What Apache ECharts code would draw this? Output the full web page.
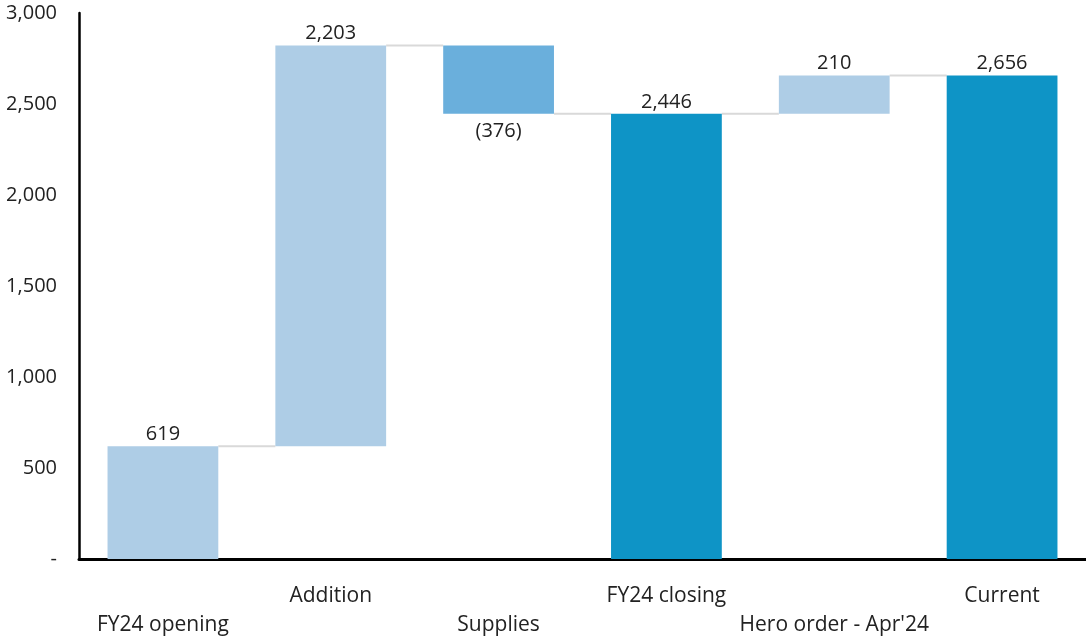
<!DOCTYPE html>
<html>
<head>
<meta charset="utf-8">
<script src="https://cdn.jsdelivr.net/npm/echarts@6/dist/echarts.min.js"></script>
<style>html,body{margin:0;padding:0;background:#fff;}#c{width:1086px;height:641px;}</style>
</head>
<body>
<div id="c"></div>
<script>
const categories = ['FY24 opening', 'Addition', 'Supplies', 'FY24 closing', "Hero order - Apr'24", 'Current'];
const values = [619, 2203, -376, 2446, 210, 2656];
const kinds = ['light', 'light', 'neg', 'total', 'light', 'total'];
const yTicks = [0, 500, 1000, 1500, 2000, 2500, 3000];

const colors = { light: '#AECDE6', neg: '#6AAFDC', total: '#0E94C6' };
const FONT = '"Open Sans", "Noto Sans", sans-serif';

// compute waterfall bases
const bases = [], heights = [], ends = [];
let run = 0;
values.forEach((v, i) => {
  if (kinds[i] === 'total') {
    bases.push(0); heights.push(v); run = v;
  } else if (v >= 0) {
    bases.push(run); heights.push(v); run += v;
  } else {
    bases.push(run + v); heights.push(-v); run += v;
  }
  ends.push(run);
});
const fmt = n => n.toLocaleString('en-US');
const connectors = ends.slice(0, -1).map((lvl, i) => [i, lvl]);

const chart = echarts.init(document.getElementById('c'));
chart.setOption({
  animation: false,
  grid: { left: 79, right: 0, top: 13, bottom: 82, containLabel: false },
  xAxis: {
    type: 'category',
    data: categories,
    axisLine: { lineStyle: { color: '#000', width: 3 } },
    axisTick: { show: false },
    axisLabel: {
      interval: 0, margin: 23, color: '#222', fontSize: 21, fontFamily: FONT, lineHeight: 29,
      formatter: (v, i) => i % 2 === 0 ? '\n' + v : v + '\n'
    }
  },
  yAxis: {
    type: 'value', min: 0, max: 3000, interval: 500,
    axisLine: { show: true, lineStyle: { color: '#000', width: 2.5 } },
    axisTick: { show: false },
    splitLine: { show: false },
    axisLabel: {
      margin: 22, color: '#222', fontSize: 20, fontFamily: FONT,
      formatter: v => yTicks.includes(v) ? (v === 0 ? '-' : fmt(v)) : ''
    }
  },
  series: [
    {
      type: 'bar', stack: 'w', barWidth: '66%', silent: true,
      itemStyle: { color: 'transparent' },
      data: bases
    },
    {
      type: 'bar', stack: 'w', barWidth: '66%',
      data: heights.map((h, i) => ({
        value: h,
        itemStyle: { color: colors[kinds[i]] },
        label: {
          show: true,
          position: values[i] < 0 ? 'bottom' : 'top',
          distance: values[i] < 0 ? 7 : 2,
          color: '#222', fontSize: 20, fontFamily: FONT,
          formatter: () => values[i] < 0 ? '(' + fmt(-values[i]) + ')' : fmt(values[i])
        }
      }))
    },
    {
      type: 'custom', silent: true, z: 1,
      data: connectors,
      renderItem: (params, api) => {
        const i = api.value(0), lvl = api.value(1);
        const a = api.coord([i, lvl]), b = api.coord([i + 1, lvl]);
        const hw = api.size([1, 0])[0] * 0.33;
        return {
          type: 'line',
          shape: { x1: a[0] + hw, y1: a[1], x2: b[0] - hw, y2: b[1] },
          style: { stroke: '#D9D9D9', lineWidth: 2 }
        };
      }
    }
  ]
});
</script>
</body>
</html>
